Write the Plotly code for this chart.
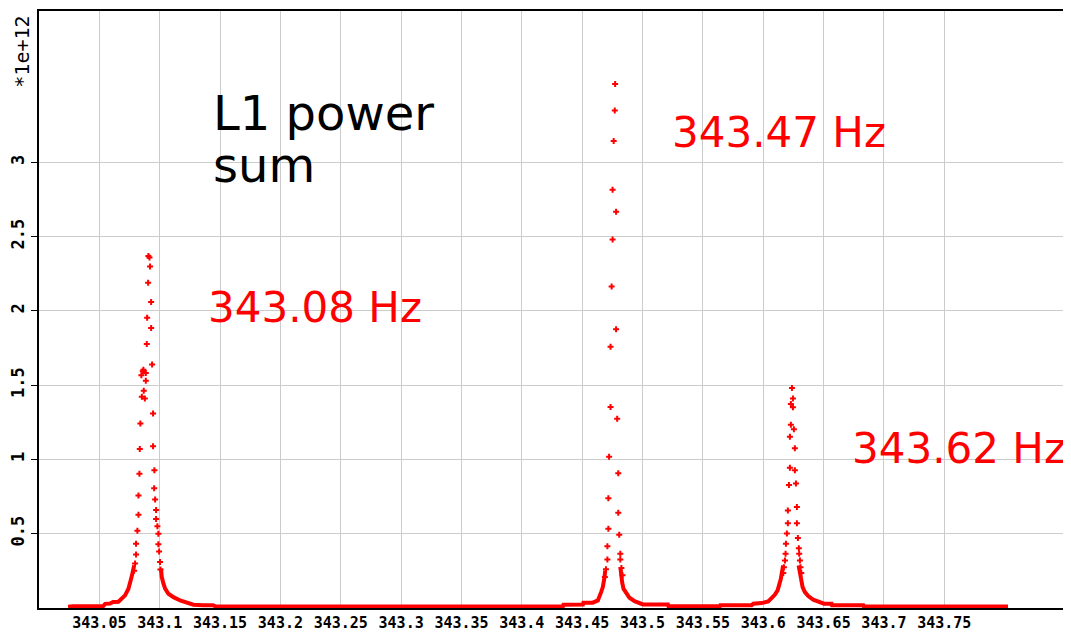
import plotly.graph_objects as go

# ---- data (power in units of 1e12) ----
# discrete points around the three peaks
peak1_x = [343.0788, 343.0796, 343.0804, 343.0804, 343.0815, 343.0824, 343.0824, 343.0832,
           343.0835, 343.0840, 343.0852, 343.0877, 343.0868, 343.0885, 343.0848, 343.0885,
           343.0865, 343.0860, 343.0893, 343.0896, 343.0904, 343.0906, 343.0915, 343.0920,
           343.0929, 343.0929, 343.0937, 343.0945, 343.0945, 343.0956, 343.0954, 343.0962,
           343.0970, 343.0970, 343.0981, 343.0989, 343.0989, 343.0995, 343.1003, 343.1006]
peak1_y = [0.25, 0.30, 0.36, 0.433, 0.52, 0.628, 0.758, 0.904,
           1.07, 1.243, 1.423, 1.411, 1.463, 1.531, 1.568, 1.582,
           1.605, 1.595, 1.777, 1.955, 2.19, 2.37, 2.36, 2.30,
           2.06, 1.885, 1.64, 1.31, 1.09, 0.927, 0.807, 0.731,
           0.66, 0.60, 0.55, 0.50, 0.43, 0.38, 0.31, 0.26]

peak2_x = [343.4773, 343.4770, 343.4761, 343.4752, 343.4781, 343.4752, 343.4744, 343.4781,
           343.4735, 343.4735, 343.4790, 343.4723, 343.4799, 343.4717, 343.4799, 343.4717,
           343.4807, 343.4709, 343.4816, 343.4709, 343.4816, 343.4697, 343.4825, 343.4688,
           343.4834]
peak2_y = [3.529, 3.350, 3.145, 2.817, 2.668, 2.481, 2.165, 1.877,
           1.759, 1.353, 1.275, 1.018, 0.907, 0.739, 0.642, 0.534,
           0.494, 0.416, 0.366, 0.327, 0.327, 0.261, 0.270, 0.209,
           0.220]

peak3_x = [343.6238, 343.6246, 343.6229, 343.6246, 343.6229, 343.6254, 343.6221, 343.6262,
           343.6221, 343.6262, 343.6213, 343.6271, 343.6204, 343.6279, 343.6204, 343.6279,
           343.6196, 343.6287, 343.6188, 343.6295, 343.6185, 343.6298, 343.6180, 343.6304,
           343.6171, 343.6309, 343.6166, 343.6315]
peak3_y = [1.481, 1.411, 1.373, 1.351, 1.234, 1.203, 1.153, 1.075,
           0.945, 0.927, 0.828, 0.839, 0.657, 0.680, 0.570, 0.570,
           0.502, 0.471, 0.433, 0.403, 0.366, 0.366, 0.32, 0.32,
           0.275, 0.275, 0.235, 0.235]

# dense floor and peak tails (None separates the runs)
floor_x = [343.0241, 343.0283, 343.0531, 343.0548, 343.0589, 343.0614, 343.0658, 343.0686,
           343.0713, 343.0741, 343.0755, 343.0763, 343.0777, 343.0788, None,
           343.1011, 343.1017, 343.1031, 343.1045, 343.1072, 343.1114, 343.1169, 343.1225,
           343.1279, 343.1360, 343.1442, 343.1467, 343.4340, 343.4345, 343.4506, 343.4510,
           343.4588, 343.4630, 343.4644, 343.4657, 343.4671, 343.4680, 343.4685, 343.4691, None,
           343.4818, 343.4823, 343.4831, 343.4842, 343.4865, 343.4892, 343.4934, 343.4989,
           343.5003, 343.5210, 343.5215, 343.5641, 343.5645, 343.5903, 343.5917, 343.5986,
           343.6041, 343.6069, 343.6097, 343.6119, 343.6133, 343.6146, 343.6155, 343.6166, None,
           343.6293, 343.6304, 343.6312, 343.6326, 343.6345, 343.6373, 343.6414, 343.6469,
           343.6503, 343.6566, 343.6570, 343.6829, 343.6833, 343.8028]
floor_y = [0.008, 0.012, 0.012, 0.028, 0.030, 0.040, 0.042, 0.063,
           0.085, 0.130, 0.164, 0.197, 0.242, 0.287, None,
           0.265, 0.208, 0.164, 0.130, 0.096, 0.073, 0.051, 0.036,
           0.022, 0.018, 0.018, 0.010, 0.010, 0.022, 0.024, 0.036,
           0.036, 0.051, 0.073, 0.107, 0.141, 0.174, 0.208, 0.253, None,
           0.265, 0.220, 0.174, 0.130, 0.096, 0.069, 0.046, 0.033,
           0.024, 0.024, 0.011, 0.011, 0.018, 0.018, 0.029, 0.033,
           0.044, 0.067, 0.090, 0.119, 0.152, 0.197, 0.242, 0.287, None,
           0.287, 0.231, 0.186, 0.141, 0.107, 0.080, 0.056, 0.040,
           0.029, 0.029, 0.018, 0.018, 0.010, 0.010]

x_ticks = [343.05, 343.1, 343.15, 343.2, 343.25, 343.3, 343.35, 343.4,
           343.45, 343.5, 343.55, 343.6, 343.65, 343.7, 343.75]
x_tick_text = ["343.05", "343.1", "343.15", "343.2", "343.25", "343.3", "343.35", "343.4",
               "343.45", "343.5", "343.55", "343.6", "343.65", "343.7", "343.75"]
y_ticks = [0.5, 1, 1.5, 2, 2.5, 3]
y_tick_text = ["0.5", "1", "1.5", "2", "2.5", "3"]

labels = [("L1 power", 343.1426, 3.331, "black", 48),
          ("sum", 343.1426, 2.980, "black", 48),
          ("343.47 Hz", 343.5229, 3.201, "red", 42),
          ("343.08 Hz", 343.1384, 2.024, "red", 42),
          ("343.62 Hz", 343.6722, 1.075, "red", 42)]

fig = go.Figure()
fig.add_trace(go.Scatter(x=floor_x, y=floor_y, mode="lines", connectgaps=False,
                         line=dict(color="red", width=4), hoverinfo="skip", showlegend=False))
mx = peak1_x + peak2_x + peak3_x
my = peak1_y + peak2_y + peak3_y
fig.add_trace(go.Scatter(x=mx, y=my, mode="markers",
                         marker=dict(symbol="cross", size=5, color="red", line=dict(width=0)),
                         showlegend=False))

for text, x, y, col, size in labels:
    fig.add_annotation(x=x, y=y, xref="x", yref="y", text=text, showarrow=False,
                       xanchor="left", yanchor="middle",
                       font=dict(family="DejaVu Sans", size=size, color=col))

fig.add_annotation(x=-0.0165, y=0.932, xref="paper", yref="paper", text="*1e+12",
                   showarrow=False, textangle=-90, xanchor="center", yanchor="middle",
                   font=dict(family="DejaVu Sans Mono", size=20, color="black"))

# the page body adds an 8px offset, so the figure is sized to fit inside the window
fig.update_layout(
    width=1063, height=626,
    margin=dict(l=31, r=6, t=3, b=26, pad=0),
    paper_bgcolor="white", plot_bgcolor="white",
    xaxis=dict(range=[343.0, 343.85], tickvals=x_ticks, ticktext=x_tick_text,
               showgrid=True, gridcolor="#cccccc", gridwidth=1, zeroline=False,
               showline=True, linecolor="black", linewidth=1.5, mirror=True,
               ticks="", tickfont=dict(family="DejaVu Sans Mono", size=15, color="black",
                                       weight="bold"),
               automargin=False),
    yaxis=dict(range=[0, 4.02], tickvals=y_ticks, ticktext=y_tick_text,
               showgrid=True, gridcolor="#cccccc", gridwidth=1, zeroline=False,
               showline=True, linecolor="black", linewidth=1.5, mirror=True,
               ticks="outside", ticklen=6, tickcolor="black", tickangle=-90,
               tickfont=dict(family="DejaVu Sans Mono", size=17, color="black",
                             weight="bold"),
               automargin=False),
)

fig.write_html("out.html")
